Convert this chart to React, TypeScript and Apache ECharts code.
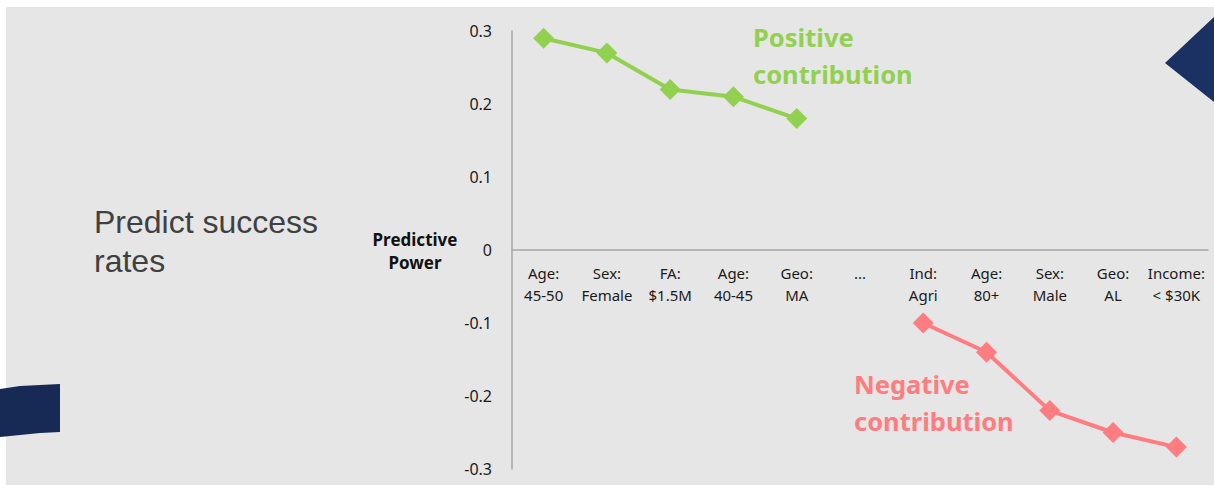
import React, { useEffect, useRef } from "react";
import * as echarts from "echarts";

const categories = [
  "Age:\n45-50", "Sex:\nFemale", "FA:\n$1.5M", "Age:\n40-45", "Geo:\nMA", "...",
  "Ind:\nAgri", "Age:\n80+", "Sex:\nMale", "Geo:\nAL", "Income:\n< $30K",
];
const positive = [0.29, 0.27, 0.22, 0.21, 0.18, null, null, null, null, null, null];
const negative = [null, null, null, null, null, null, -0.10, -0.14, -0.22, -0.25, -0.27];
const yTicks = { min: -0.3, max: 0.3, interval: 0.1 };

const GREEN = "#92d050";
const PINK = "#ff7c80";
const NAVY = "#1b3163";
const AXIS = "#a6a6a6";

export default function App() {
  const ref = useRef<HTMLDivElement>(null);
  useEffect(() => {
    const chart = echarts.init(ref.current!, null, { renderer: "svg" });
    chart.setOption({
      animation: false,
      backgroundColor: "#ffffff",
      grid: { left: 512, right: 6, top: 31, bottom: 16, containLabel: false, outerBoundsMode: "none" },
      xAxis: {
        type: "category",
        data: categories,
        boundaryGap: true,
        position: "bottom",
        offset: -219,
        axisLine: { show: true, onZero: false, lineStyle: { color: AXIS, width: 1.5 } },
        axisTick: { show: false },
        axisLabel: {
          interval: 0,
          margin: 12,
          color: "#1a1a1a",
          fontFamily: "Noto Sans",
          fontSize: 15,
          lineHeight: 22,
        },
      },
      yAxis: {
        type: "value",
        min: yTicks.min,
        max: yTicks.max,
        interval: yTicks.interval,
        axisLine: { show: true, lineStyle: { color: AXIS, width: 1.5 } },
        axisTick: { show: false },
        splitLine: { show: false },
        axisLabel: {
          margin: 20,
          color: "#1a1a1a",
          fontFamily: "Noto Sans",
          fontSize: 16,
          formatter: (v: number) => (Math.abs(v) < 1e-9 ? "0" : String(Math.round(v * 10) / 10)),
        },
      },
      graphic: [
        { type: "rect", z: -10, shape: { x: 6, y: 7, width: 1208, height: 478 }, style: { fill: "#e6e6e6" } },
        { type: "polygon", shape: { points: [[1165, 63], [1214, 17], [1214, 102]] }, style: { fill: NAVY } },
        {
          type: "polygon",
          shape: { points: [[0, 389], [20, 386], [40, 385], [60, 384], [60, 432], [40, 433], [20, 435], [0, 437]] },
          style: { fill: "#172a55" },
        },
        {
          type: "text", left: 94, top: 202,
          style: { text: "Predict success\nrates", fill: "#404040", font: "32px 'Liberation Sans'", lineHeight: 39 },
        },
        {
          type: "text", x: 415, y: 251,
          style: { text: "Predictive\nPower", fill: "#111", font: "bold 17px 'Noto Sans'", lineHeight: 23, align: "center", verticalAlign: "middle" },
        },
        {
          type: "text", left: 753, top: 18,
          style: { text: "Positive\ncontribution", fill: GREEN, font: "bold 25.5px 'Noto Sans'", lineHeight: 37 },
        },
        {
          type: "text", left: 854, top: 365,
          style: { text: "Negative\ncontribution", fill: PINK, font: "bold 25.5px 'Noto Sans'", lineHeight: 37 },
        },
      ],
      series: [
        {
          type: "line", data: positive, symbol: "diamond", symbolSize: 21,
          itemStyle: { color: GREEN }, lineStyle: { color: GREEN, width: 4 }, connectNulls: false,
        },
        {
          type: "line", data: negative, symbol: "diamond", symbolSize: 21,
          itemStyle: { color: PINK }, lineStyle: { color: PINK, width: 4 }, connectNulls: false,
        },
      ],
    });
    return () => chart.dispose();
  }, []);
  return <div ref={ref} style={{ position: "fixed", left: 0, top: 0, width: 1214, height: 485 }} />;
}
